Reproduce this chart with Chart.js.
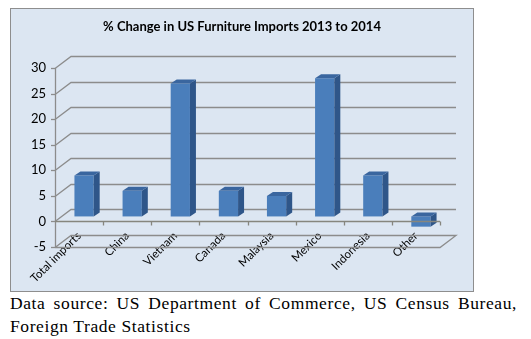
<!DOCTYPE html>
<html>
<head>
<meta charset="utf-8">
<script src="https://cdn.jsdelivr.net/npm/chart.js@4/dist/chart.umd.min.js"></script>
<style>
  body { margin: 0; background: #fff; width: 531px; height: 339px; position: relative; overflow: hidden; }
  #box { position: absolute; left: 10px; top: 8px; width: 464px; height: 284px; box-sizing: border-box;
         border: 1px solid #8e8e8e; background: #dce6f2; }
  #box canvas { display: block; }
  #source { position: absolute; left: 10px; top: 292px; width: 507px; font-family: "Liberation Serif", serif;
            font-size: 17.5px; letter-spacing: 0.6px; line-height: 22.7px; color: #000; }
  #source .l1 { text-align: justify; text-align-last: justify; white-space: nowrap; }
</style>
</head>
<body>
<div id="box"><canvas id="chart" width="462" height="282"></canvas></div>
<div id="source">
  <div class="l1">Data source: US Department of Commerce, US Census Bureau,</div>
  <div>Foreign Trade Statistics</div>
</div>
<script>
// data
var categories = ['Total imports', 'China', 'Vietnam', 'Canada', 'Malaysia', 'Mexico', 'Indonesia', 'Other'];
var pctChange = [8, 5, 26, 5, 4, 27, 8, -2];
var yMin = -5, yMax = 30, yStep = 5;

// 3d look
var wallDx = 16, wallDy = -12;   // depth of the back wall
var barDx = 5, barDy = -5;       // bars sit a bit behind the front plane
var sideDx = 6, sideDy = -4;     // bar depth
var lineCol = '#8c8c8c';

var threeD = {
  id: 'threeD',
  beforeDatasetsDraw: function(chart) {
    var ctx = chart.ctx, a = chart.chartArea, ys = chart.scales.y;
    ctx.save();
    ctx.strokeStyle = lineCol;
    ctx.lineWidth = 1.3;
    ys.ticks.forEach(function(t) {
      var yf = Math.round(ys.getPixelForValue(t.value)) + 0.5;
      ctx.beginPath();
      ctx.moveTo(a.left, yf);
      ctx.lineTo(a.left + wallDx, yf + wallDy);
      ctx.lineTo(a.right + wallDx, yf + wallDy);
      if (t.value == yMin) {
        ctx.lineTo(a.right, yf);
        ctx.lineTo(a.left, yf);
      }
      ctx.stroke();
      // tick mark on the front axis
      ctx.beginPath();
      ctx.moveTo(a.left - 4, yf);
      ctx.lineTo(a.left, yf);
      ctx.stroke();
    });
    // front vertical axis
    ctx.beginPath();
    ctx.moveTo(a.left + 0.5, ys.getPixelForValue(yMax));
    ctx.lineTo(a.left + 0.5, ys.getPixelForValue(yMin));
    ctx.stroke();
    ctx.restore();

    ctx.save();
    ctx.translate(barDx, barDy);
  },
  afterDatasetsDraw: function(chart) {
    var ctx = chart.ctx, a = chart.chartArea, ys = chart.scales.y;
    chart.getDatasetMeta(0).data.forEach(function(bar) {
      var p = bar.getProps(['x', 'y', 'base', 'width'], true);
      var l = p.x - p.width / 2, r = p.x + p.width / 2;
      var top = Math.min(p.y, p.base), bot = Math.max(p.y, p.base);
      ctx.fillStyle = '#2f5689';
      ctx.beginPath();
      ctx.moveTo(r, top); ctx.lineTo(r + sideDx, top + sideDy);
      ctx.lineTo(r + sideDx, bot + sideDy); ctx.lineTo(r, bot);
      ctx.closePath(); ctx.fill();
      ctx.fillStyle = '#3a669f';
      ctx.beginPath();
      ctx.moveTo(l, top); ctx.lineTo(l + sideDx, top + sideDy);
      ctx.lineTo(r + sideDx, top + sideDy); ctx.lineTo(r, top);
      ctx.closePath(); ctx.fill();
    });
    ctx.restore();

    // front category axis at zero, drawn over the bars
    var y0 = Math.round(ys.getPixelForValue(0)) + 0.5;
    ctx.save();
    ctx.strokeStyle = '#86867e';
    ctx.lineWidth = 1.3;
    ctx.beginPath();
    ctx.moveTo(a.left, y0);
    ctx.lineTo(a.right, y0);
    var step = (a.right - a.left) / categories.length;
    for (var i = 1; i <= categories.length; i++) {
      var x = Math.round(a.left + step * i) + 0.5;
      ctx.moveTo(x, y0);
      ctx.lineTo(x, y0 + 4);
    }
    ctx.stroke();
    ctx.restore();
  }
};

new Chart(document.getElementById('chart'), {
  type: 'bar',
  data: {
    labels: categories,
    datasets: [{
      label: '% change',
      data: pctChange,
      backgroundColor: '#4a7ebb',
      borderWidth: 0,
      categoryPercentage: 1,
      barPercentage: 0.4
    }]
  },
  options: {
    responsive: false,
    animation: false,
    layout: { padding: 0 },
    plugins: {
      legend: { display: false },
      tooltip: { enabled: false },
      title: {
        display: true,
        text: '% Change in US Furniture Imports 2013 to 2014',
        color: '#000',
        font: { family: 'Lato', size: 13, weight: 'bold', lineHeight: 1.2 },
        padding: { top: 10.2, bottom: 33.2 }
      }
    },
    scales: {
      x: {
        grid: { display: false, drawTicks: false },
        border: { display: false },
        ticks: { color: '#000', font: { family: 'Lato', size: 11.5 }, minRotation: 45, maxRotation: 45, padding: -18, autoSkip: false },
        afterFit: function(s) { s.height = 44; },
        // labels start above the floor, so do not clip them to the axis box
        afterUpdate: function(s) { s._computeLabelArea = function() { return undefined; }; }
      },
      y: {
        min: yMin, max: yMax,
        grid: { display: false, drawTicks: false },
        border: { display: false },
        ticks: { stepSize: yStep, color: '#000', font: { family: 'Lato', size: 13 }, padding: 9 },
        afterFit: function(s) { s.width = 44; }
      },
      yRight: {
        position: 'right',
        grid: { display: false, drawTicks: false },
        border: { display: false },
        ticks: { display: false },
        afterFit: function(s) { s.width = 33; }
      }
    }
  },
  plugins: [threeD]
});
</script>
</body>
</html>
